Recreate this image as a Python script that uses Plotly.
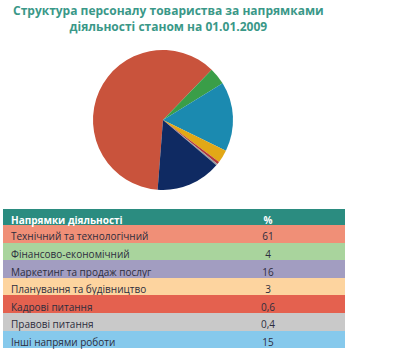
import plotly.graph_objects as go

categories = [
    "Технічний та технологічний",
    "Фінансово-економічний",
    "Маркетинг та продаж послуг",
    "Планування та будівництво",
    "Кадрові питання",
    "Правові питання",
    "Інші напрями роботи",
]
values = [61, 4, 16, 3, 0.6, 0.4, 15]
value_labels = ["61", "4", "16", "3", "0,6", "0,4", "15"]
header_labels = ["Напрямки діяльності", "%"]
title_lines = ["Структура персоналу товариства за напрямками", "діяльності станом на 01.01.2009"]

pie_colors = ["#c9533c", "#3a9e48", "#1b8ab0", "#e2a816", "#b3373a", "#9c9c9c", "#0f2a62"]
row_colors = ["#f08f77", "#a9d49d", "#a29dc1", "#fdd49f", "#e4614f", "#c9c9c9", "#86c9ec"]
header_color = "#2b8c80"

fig = go.Figure()

fig.add_trace(go.Pie(
    labels=categories,
    values=values,
    sort=False,
    direction="clockwise",
    rotation=184.4,
    marker=dict(colors=pie_colors, line=dict(width=0)),
    textinfo="none",
    hoverinfo="label+value",
    showlegend=False,
    domain=dict(x=[0.2325, 0.5825], y=[0.4618, 0.8584]),
))

fig.add_trace(go.Table(
    domain=dict(x=[0.0075, 0.8625], y=[0.0, 0.408]),
    columnwidth=[188, 154],
    header=dict(
        values=header_labels,
        fill=dict(color=header_color),
        line=dict(color=header_color, width=0),
        align=["left", "center"],
        font=dict(family="Open Sans", size=10, color="white", weight="bold"),
        height=16,
    ),
    cells=dict(
        values=[categories, value_labels],
        fill=dict(color=[row_colors, row_colors]),
        line=dict(color=[row_colors, row_colors], width=0),
        align=["left", "center"],
        font=dict(family="Open Sans", size=10, color="#2d2d3d"),
        height=17.6,
    ),
))

fig.update_layout(
    width=400,
    height=353,
    margin=dict(l=0, r=0, t=0, b=0),
    paper_bgcolor="white",
    plot_bgcolor="white",
    annotations=[
        dict(
            text="<b>%s</b><br><b>%s</b>" % tuple(title_lines),
            x=0.42, y=1.0, xref="paper", yref="paper",
            xanchor="center", yanchor="top",
            showarrow=False,
            font=dict(family="Open Sans", size=12, color="#3a9888"),
            align="center",
        )
    ],
)

fig.write_html("out.html")
